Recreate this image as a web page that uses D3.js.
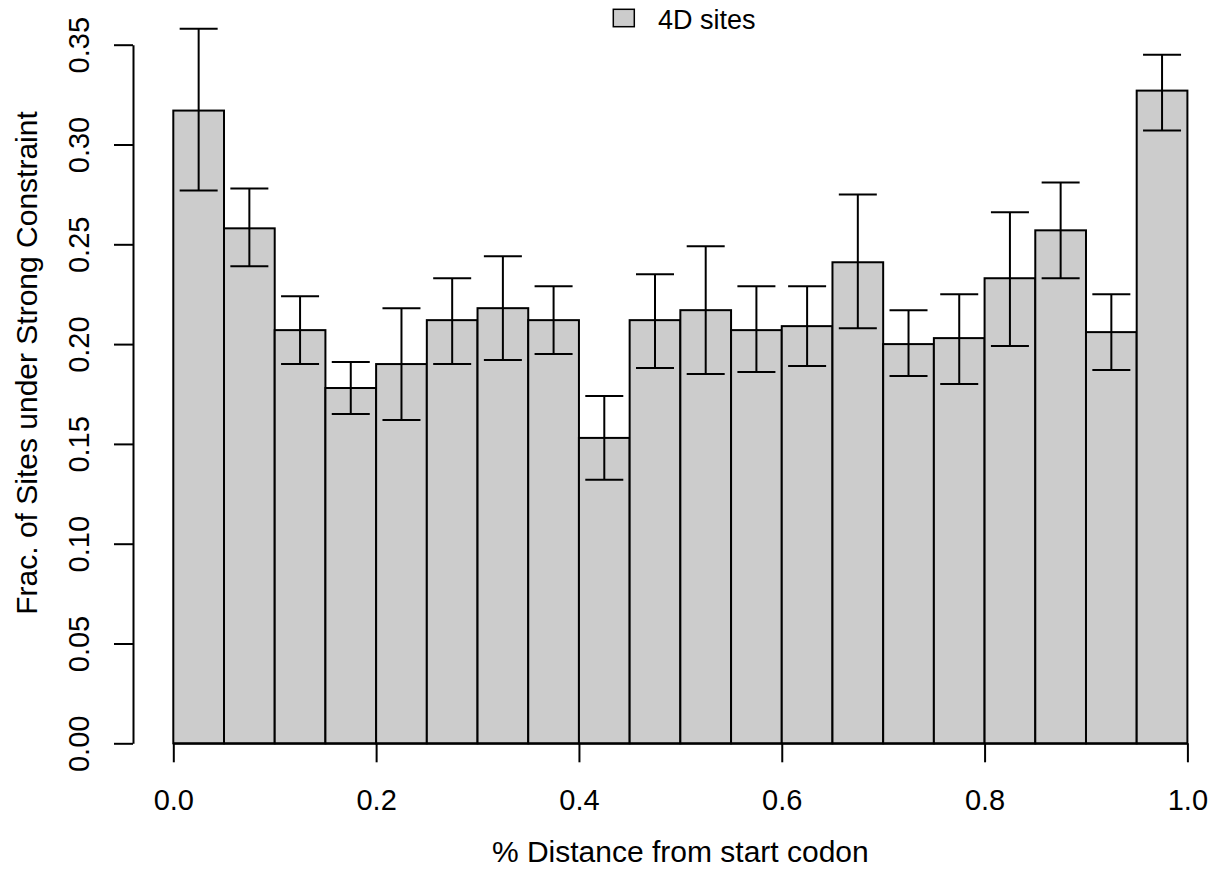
<!DOCTYPE html>
<html>
<head>
<meta charset="utf-8">
<script src="https://cdn.jsdelivr.net/npm/d3@7"></script>
<style>
  html, body { margin: 0; padding: 0; background: #fff; }
  text { font-family: "Liberation Sans", Arial, Helvetica, sans-serif; fill: #000; }
</style>
</head>
<body>
<script>
// bins of 0.05 along the gene, fraction of 4D sites under strong constraint
var binStart = [0.00, 0.05, 0.10, 0.15, 0.20, 0.25, 0.30, 0.35, 0.40, 0.45,
                0.50, 0.55, 0.60, 0.65, 0.70, 0.75, 0.80, 0.85, 0.90, 0.95];
var frac = [0.317, 0.258, 0.207, 0.178, 0.190, 0.212, 0.218, 0.212, 0.153, 0.212,
            0.217, 0.207, 0.209, 0.241, 0.200, 0.203, 0.233, 0.257, 0.206, 0.327];
var errLow = [0.277, 0.239, 0.190, 0.165, 0.162, 0.190, 0.192, 0.195, 0.132, 0.188,
              0.185, 0.186, 0.189, 0.208, 0.184, 0.180, 0.199, 0.233, 0.187, 0.307];
var errHigh = [0.358, 0.278, 0.224, 0.191, 0.218, 0.233, 0.244, 0.229, 0.174, 0.235,
               0.249, 0.229, 0.229, 0.275, 0.217, 0.225, 0.266, 0.281, 0.225, 0.345];
var binWidth = 0.05;
var xTicks = [0, 0.2, 0.4, 0.6, 0.8, 1.0];
var yTicks = [0, 0.05, 0.10, 0.15, 0.20, 0.25, 0.30, 0.35];
var legendLabel = "4D sites";

var width = 1215, height = 869;
var svg = d3.select("body").append("svg")
    .attr("width", width)
    .attr("height", height);

var x = d3.scaleLinear().domain([0, 1]).range([173.3, 1187.4]);
var y = d3.scaleLinear().domain([0, 0.35]).range([743.3, 44.7]);
var capHalf = 19;

// bars
svg.append("g").selectAll("rect").data(frac).enter().append("rect")
    .attr("x", function (d, i) { return x(binStart[i]); })
    .attr("y", function (d) { return y(d); })
    .attr("width", function (d, i) { return x(binStart[i] + binWidth) - x(binStart[i]); })
    .attr("height", function (d) { return y(0) - y(d); })
    .style("fill", "#cccccc")
    .style("stroke", "#000")
    .style("stroke-width", 2);

// error bars
var eb = svg.append("g").selectAll("g").data(frac).enter().append("g")
    .style("stroke", "#000")
    .style("stroke-width", 2);
eb.append("line")
    .attr("x1", function (d, i) { return x(binStart[i] + binWidth / 2); })
    .attr("x2", function (d, i) { return x(binStart[i] + binWidth / 2); })
    .attr("y1", function (d, i) { return y(errLow[i]); })
    .attr("y2", function (d, i) { return y(errHigh[i]); });
eb.append("line")
    .attr("x1", function (d, i) { return x(binStart[i] + binWidth / 2) - capHalf; })
    .attr("x2", function (d, i) { return x(binStart[i] + binWidth / 2) + capHalf; })
    .attr("y1", function (d, i) { return y(errHigh[i]); })
    .attr("y2", function (d, i) { return y(errHigh[i]); });
eb.append("line")
    .attr("x1", function (d, i) { return x(binStart[i] + binWidth / 2) - capHalf; })
    .attr("x2", function (d, i) { return x(binStart[i] + binWidth / 2) + capHalf; })
    .attr("y1", function (d, i) { return y(errLow[i]); })
    .attr("y2", function (d, i) { return y(errLow[i]); });

// x axis
var gx = svg.append("g")
    .attr("transform", "translate(0," + y(0) + ")")
    .call(d3.axisBottom(x).tickValues(xTicks).tickSize(19).tickSizeOuter(0)
        .tickFormat(d3.format(".1f")));
gx.selectAll("path, line").style("stroke", "#000").style("stroke-width", 2);
gx.selectAll("text")
    .attr("y", 67).attr("dy", null)
    .style("font-size", "29px")
    .style("font-family", "'Liberation Sans', Arial, sans-serif");

// y axis
var gy = svg.append("g")
    .attr("transform", "translate(133,0)")
    .call(d3.axisLeft(y).tickValues(yTicks).tickSize(19).tickSizeOuter(0)
        .tickFormat(d3.format(".2f")));
gy.selectAll("path, line").style("stroke", "#000").style("stroke-width", 2);
gy.selectAll("text")
    .attr("x", 0).attr("y", 0).attr("dy", null)
    .attr("text-anchor", "middle")
    .attr("transform", "translate(-44,0) rotate(-90)")
    .style("font-size", "29px")
    .style("font-family", "'Liberation Sans', Arial, sans-serif");

// axis titles
svg.append("text")
    .attr("x", x(0.5))
    .attr("y", 862)
    .attr("text-anchor", "middle")
    .style("font-size", "30px")
    .text("% Distance from start codon");
svg.append("text")
    .attr("transform", "translate(37,363) rotate(-90)")
    .attr("text-anchor", "middle")
    .style("font-size", "30px")
    .text("Frac. of Sites under Strong Constraint");

// legend
svg.append("rect")
    .attr("x", 613.3).attr("y", 9.3)
    .attr("width", 21).attr("height", 17.4)
    .style("fill", "#cccccc")
    .style("stroke", "#000")
    .style("stroke-width", 1.5);
svg.append("text")
    .attr("x", 658).attr("y", 29)
    .style("font-size", "27px")
    .text(legendLabel);
</script>
</body>
</html>
